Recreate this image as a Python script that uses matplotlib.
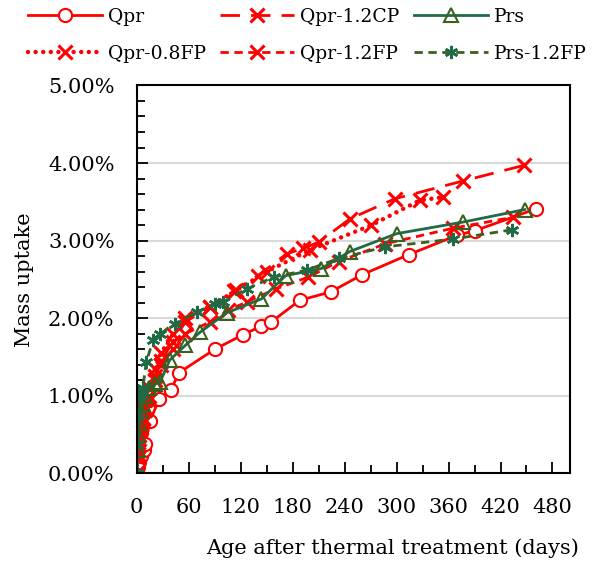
import matplotlib
matplotlib.use("Agg")
import matplotlib.pyplot as plt
from matplotlib.ticker import MultipleLocator, FuncFormatter

plt.rcParams['font.family'] = ['DejaVu Serif']

# data (days, mass uptake in %)
qpr_days = [0, 1, 3, 5, 8, 10, 15, 26, 39, 49, 90, 123, 144, 155, 188, 224, 260, 314, 370, 391, 461]
qpr_vals = [0, 0.08, 0.15, 0.22, 0.30, 0.38, 0.67, 0.96, 1.07, 1.30, 1.60, 1.79, 1.90, 1.95, 2.23, 2.34, 2.56, 2.82, 3.07, 3.13, 3.41]

cp12_days = [0, 1, 2, 3, 5, 7, 10, 14, 21, 28, 42, 56, 84, 112, 140, 173, 192, 210, 246, 298, 377, 447]
cp12_vals = [0, 0.25, 0.40, 0.50, 0.62, 0.72, 0.85, 1.00, 1.25, 1.45, 1.70, 1.95, 2.15, 2.35, 2.55, 2.83, 2.90, 2.98, 3.28, 3.54, 3.77, 3.97]

fp08_days = [0, 1, 2, 3, 5, 7, 10, 14, 21, 28, 42, 56, 84, 115, 150, 200, 271, 327, 354]
fp08_vals = [0, 0.30, 0.45, 0.55, 0.68, 0.80, 0.95, 1.10, 1.35, 1.55, 1.80, 2.00, 2.15, 2.36, 2.60, 2.88, 3.20, 3.52, 3.56]

fp12_days = [0, 1, 2, 3, 5, 7, 10, 14, 21, 28, 42, 56, 84, 105, 127, 161, 198, 233, 287, 365, 434]
fp12_vals = [0, 0.20, 0.35, 0.45, 0.58, 0.70, 0.82, 0.95, 1.20, 1.40, 1.60, 1.80, 1.95, 2.10, 2.21, 2.38, 2.53, 2.73, 2.96, 3.16, 3.30]

prs_days = [0, 1, 2, 3, 5, 7, 10, 14, 21, 27, 38, 56, 73, 104, 144, 172, 213, 246, 300, 377, 448]
prs_vals = [0, 0.30, 0.50, 0.65, 0.80, 0.90, 1.00, 1.10, 1.15, 1.18, 1.46, 1.65, 1.82, 2.07, 2.25, 2.55, 2.64, 2.86, 3.09, 3.24, 3.40]

prsfp_days = [0, 0.5, 1, 2, 5, 7, 11, 19, 27, 44, 69, 90, 100, 127, 158, 196, 233, 287, 365, 433]
prsfp_vals = [0, 0.37, 0.75, 1.04, 1.00, 1.10, 1.44, 1.72, 1.80, 1.93, 2.08, 2.18, 2.21, 2.38, 2.53, 2.62, 2.77, 2.92, 3.02, 3.14]

red = '#FF0000'
green = '#1E6B46'
olive = '#3A5F1E'

fig = plt.figure(figsize=(6.16, 5.62), dpi=100)
ax = fig.add_axes([0.222, 0.1575, 0.703, 0.6905])

lw = 2.0
ms = 9.5

h_qpr, = ax.plot(qpr_days, qpr_vals, '-', color=red, lw=lw, marker='o', ms=ms,
                 mfc='white', mec=red, mew=1.5, label='Qpr')
h_cp, = ax.plot(cp12_days, cp12_vals, color=red, lw=lw, dashes=(7, 4), marker='x',
                ms=ms, mec=red, mew=2.2, label='Qpr-1.2CP')
h_fp08, = ax.plot(fp08_days, fp08_vals, color=red, lw=3.2, dashes=(0.01, 1.7),
                  dash_capstyle='round', marker='x', ms=ms, mec=red, mew=2.2,
                  label='Qpr-0.8FP')
h_fp12, = ax.plot(fp12_days, fp12_vals, color=red, lw=lw, dashes=(3, 2), marker='x',
                  ms=ms, mec=red, mew=2.2, label='Qpr-1.2FP')
h_prs, = ax.plot(prs_days, prs_vals, '-', color=green, lw=lw, marker='^', ms=ms,
                 mfc='none', mec=olive, mew=1.5, label='Prs')
h_prsfp, = ax.plot(prsfp_days, prsfp_vals, color=olive, lw=lw, dashes=(3, 2),
                   marker=(6, 2, 0), ms=ms, mec=green, mew=1.8, label='Prs-1.2FP')

ax.set_xlim(0, 500)
ax.set_ylim(0, 5.0)
ax.xaxis.set_major_locator(MultipleLocator(60))
ax.xaxis.set_minor_locator(MultipleLocator(30))
ax.yaxis.set_major_locator(MultipleLocator(1.0))
ax.yaxis.set_minor_locator(MultipleLocator(0.2))
ax.yaxis.set_major_formatter(FuncFormatter(lambda v, p: f"{v:.2f}%"))
ax.xaxis.set_major_formatter(FuncFormatter(lambda v, p: f"{v:.0f}" if v <= 480 else ""))

ax.tick_params(which='both', direction='in', labelsize=15, width=1.3, top=False, right=False)
ax.tick_params(which='major', length=8)
ax.tick_params(axis='x', which='major', pad=18)
ax.tick_params(axis='y', which='major', pad=16)
ax.tick_params(which='minor', length=6)
ax.grid(axis='y', which='major', color='#D9D9D9', lw=1.5)
ax.set_axisbelow(True)
for s in ax.spines.values():
    s.set_linewidth(1.5)

ax.set_xlabel('Age after thermal treatment (days)', fontsize=15, labelpad=15, x=0.59)
ax.set_ylabel('Mass uptake', fontsize=15, labelpad=10)

handles = [h_qpr, h_fp08, h_cp, h_fp12, h_prs, h_prsfp]
fig.legend(handles=handles, labels=[h.get_label() for h in handles], ncol=3,
           loc='upper left', bbox_to_anchor=(28 / 616, 0.986), frameon=False,
           borderpad=0, borderaxespad=0,
           fontsize=13.5, handlelength=3.95, handletextpad=0.32, columnspacing=0.75,
           labelspacing=1.0)

fig.savefig('out.png', dpi=100)
